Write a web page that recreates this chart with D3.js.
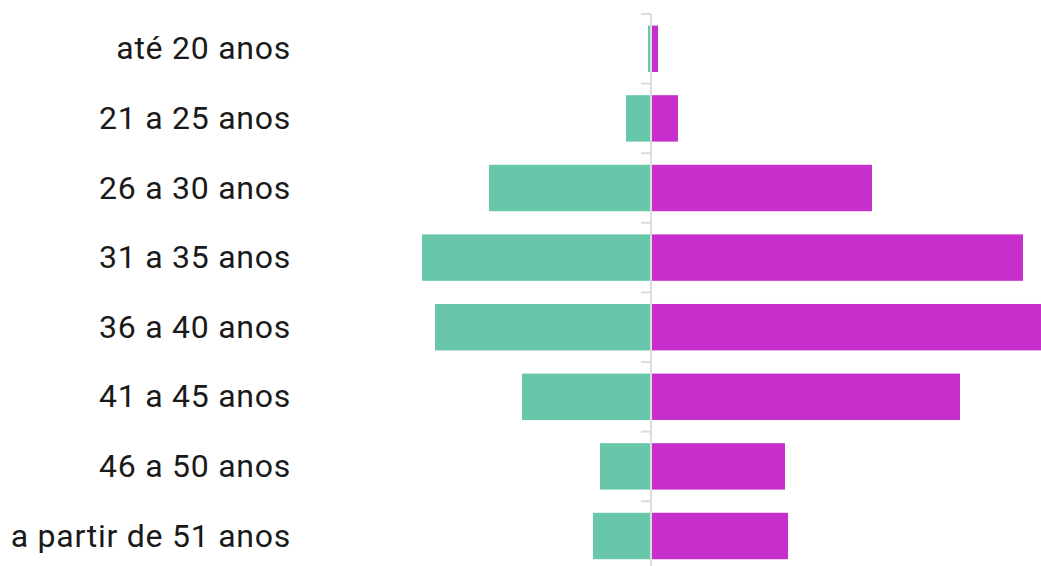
<!DOCTYPE html>
<html>
<head>
<meta charset="utf-8" />
<script src="https://d3js.org/d3.v7.min.js"></script>
<style>
  body { margin: 0; background: #fff; }
  .label { font-family: Roboto, sans-serif; font-size: 32px; letter-spacing: 0.75px; fill: #1a1a1a; }
</style>
</head>
<body>
<script>
  // faixas etarias
  var categories = ["até 20 anos", "21 a 25 anos", "26 a 30 anos", "31 a 35 anos",
                    "36 a 40 anos", "41 a 45 anos", "46 a 50 anos", "a partir de 51 anos"];
  // lado esquerdo (verde) e direito (magenta)
  var leftValues  = [3, 25, 162, 229, 216, 129, 51, 58];
  var rightValues = [7, 27, 221, 372, 390, 309, 134, 137];

  var w = 1041, h = 566;
  var cx = 651;

  var svg = d3.select("body").append("svg")
              .attr("width", w)
              .attr("height", h);

  var maxV = d3.max(rightValues.concat(leftValues));
  var x = d3.scaleLinear().domain([-maxV, maxV]).range([cx - (w - cx), w]);

  var y = d3.scaleBand()
            .domain(categories)
            .range([14, 14 + 69.6 * categories.length])
            .paddingInner(0.333)
            .paddingOuter(0.1665);

  // ticks between bands
  var step = y.step();
  var edges = d3.range(categories.length).map(function(i) { return 14 + i * step; });

  svg.selectAll(".tick")
     .data(edges)
     .enter().append("line")
     .attr("x1", cx - 10).attr("x2", cx)
     .attr("y1", function(d) { return d; })
     .attr("y2", function(d) { return d; })
     .attr("stroke", "#dcdcdc")
     .attr("stroke-width", 2);

  svg.selectAll(".barL")
     .data(leftValues)
     .enter().append("rect")
     .attr("x", function(d) { return x(-d); })
     .attr("y", function(d, i) { return y(categories[i]); })
     .attr("width", function(d) { return x(0) - x(-d); })
     .attr("height", y.bandwidth())
     .attr("fill", "#68c6aa");

  svg.selectAll(".barR")
     .data(rightValues)
     .enter().append("rect")
     .attr("x", x(0))
     .attr("y", function(d, i) { return y(categories[i]); })
     .attr("width", function(d) { return x(d) - x(0); })
     .attr("height", y.bandwidth())
     .attr("fill", "#c62fcb");

  // eixo central
  svg.append("line")
     .attr("x1", x(0)).attr("x2", x(0))
     .attr("y1", 14).attr("y2", h)
     .attr("stroke", "#dcdcdc")
     .attr("stroke-width", 2);

  svg.selectAll(".label")
     .data(categories)
     .enter().append("text")
     .attr("class", "label")
     .attr("x", 291)
     .attr("y", function(d) { return y(d) + y.bandwidth() / 2; })
     .attr("dy", "0.33em")
     .attr("text-anchor", "end")
     .text(function(d) { return d; });
</script>
</body>
</html>
